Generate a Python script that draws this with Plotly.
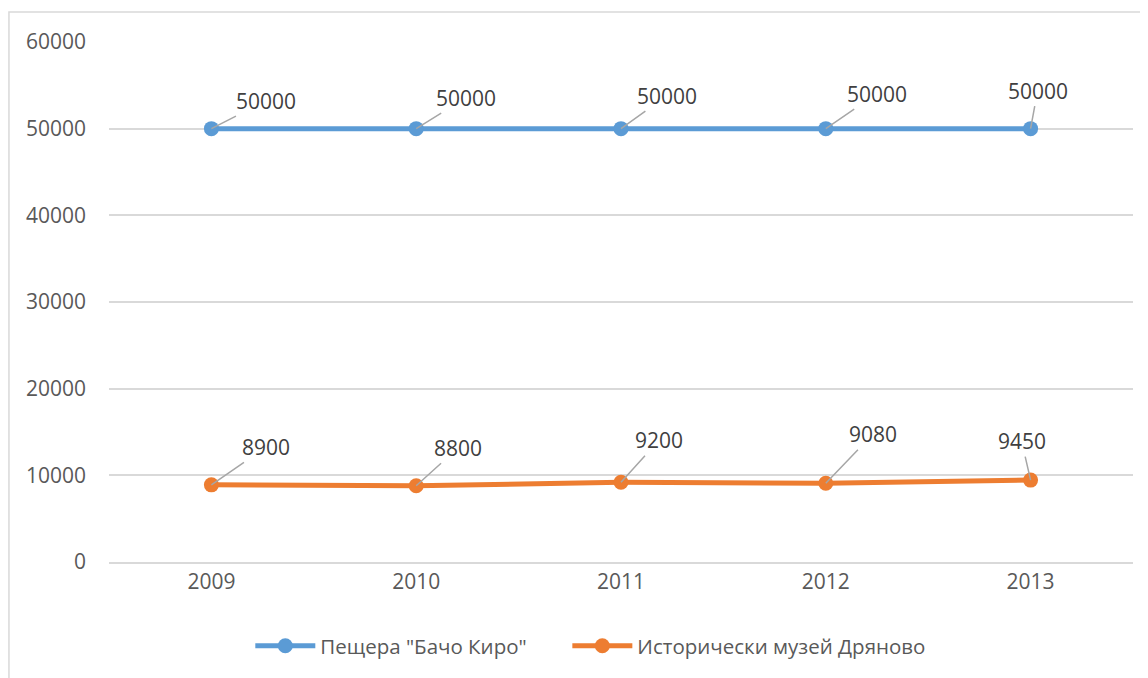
import plotly.graph_objects as go

years = ["2009", "2010", "2011", "2012", "2013"]
cave = [50000, 50000, 50000, 50000, 50000]
museum = [8900, 8800, 9200, 9080, 9450]
cave_name = 'Пещера "Бачо Киро"'
museum_name = "Исторически музей Дряново"

# label offsets (px) of each data label relative to its point
cave_off = [(55, -28), (50, -31), (46, -33), (51, -35), (7, -38)]
museum_off = [(55, -38), (42, -38), (38, -42), (47, -49), (-9, -39)]

BLUE = "#5B9BD5"
ORANGE = "#ED7D31"
FONT = "Open Sans"

fig = go.Figure()
fig.add_trace(go.Scatter(x=years, y=cave, name=cave_name, mode="lines+markers",
                         line=dict(color=BLUE, width=5),
                         marker=dict(size=15, color=BLUE), legend="legend"))
fig.add_trace(go.Scatter(x=years, y=museum, name=museum_name, mode="lines+markers",
                         line=dict(color=ORANGE, width=5),
                         marker=dict(size=15, color=ORANGE), legend="legend2"))

for vals, offs in [(cave, cave_off), (museum, museum_off)]:
    for i, (v, (dx, dy)) in enumerate(zip(vals, offs)):
        # category axis: position by index
        fig.add_annotation(x=i, y=v, text=str(v), ax=dx, ay=dy,
                           showarrow=True, arrowhead=0, arrowwidth=1.5,
                           arrowcolor="#a6a6a6", standoff=0,
                           font=dict(family=FONT, size=21, color="#404040"))

# outer chart border (partly cut off, as in the original)
fig.add_shape(type="rect", xref="paper", yref="paper",
              x0=-0.0977, x1=1.2, y0=-0.4, y1=1.0577,
              line=dict(color="#d9d9d9", width=1.5), fillcolor="rgba(0,0,0,0)",
              layer="below")

leg = dict(orientation="h", xanchor="left", y=-0.1615, yanchor="middle",
           font=dict(size=20.5, color="#595959"), itemwidth=60)
fig.update_layout(
    width=1140, height=670,
    margin=dict(l=101, r=15, t=34, b=116),
    paper_bgcolor="white", plot_bgcolor="white",
    font=dict(family=FONT, size=21, color="#595959"),
    showlegend=True,
    legend=dict(leg, x=0.138),
    legend2=dict(leg, x=0.4476),
)
fig.update_xaxes(type="category", range=[-0.5, 4.5], showgrid=False,
                 showline=True, linecolor="#d9d9d9", linewidth=1.5,
                 ticks="", tickfont=dict(size=21, color="#595959"))
fig.update_yaxes(range=[0, 60000], dtick=10000, tickformat="d", showgrid=True,
                 gridcolor="#d9d9d9", gridwidth=1.5, zeroline=False,
                 showline=False, ticks="", ticklabelstandoff=22,
                 tickfont=dict(size=21, color="#595959"))

fig.write_html("out.html")
